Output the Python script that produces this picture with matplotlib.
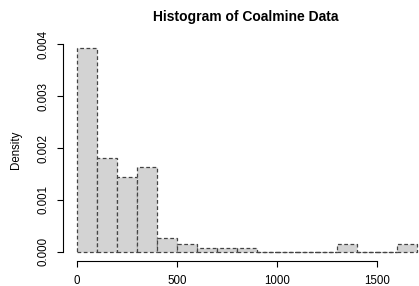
import numpy as np
import matplotlib.pyplot as plt

plt.rcParams['font.family'] = ['Liberation Sans', 'DejaVu Sans']

# histogram of coalmine intervals (days), bin width 100
breaks = np.arange(0, 1800, 100)
density = [0.00392, 0.00181, 0.00145, 0.00164, 0.00026, 0.000155,
           0.00007, 0.00007, 0.00007, 0.0, 0.0, 0.0, 0.0,
           0.000148, 0.0, 0.0, 0.000148]
xticks = [0, 500, 1000, 1500]
yticks = [0.000, 0.001, 0.002, 0.003, 0.004]

fig = plt.figure(figsize=(4.19, 2.86), dpi=100)
ax = fig.add_axes([63.4 / 419, 26 / 286, 367.2 / 419, 220 / 286])

ax.bar(breaks[:-1], density, width=np.diff(breaks), align='edge',
       color='#d3d3d3', edgecolor='#444444', linewidth=0.9,
       linestyle=(0, (3, 2)))

ax.set_xlim(-68, 1768)
ax.set_ylim(-0.000157, 0.00408)

for s in ['top', 'right']:
    ax.spines[s].set_visible(False)
ax.spines['left'].set_bounds(0, 0.004)
ax.spines['bottom'].set_bounds(0, 1500)
ax.spines['bottom'].set_position(('outward', 1))

ax.set_xticks(xticks)
ax.set_yticks(yticks)
ax.set_yticklabels([f"{v:.3f}" for v in yticks], rotation=90, va='center')
ax.tick_params(length=4, width=0.8, labelsize=8.3)
ax.tick_params(axis='x', pad=5.5)
ax.tick_params(axis='y', pad=6)

ax.set_ylabel('Density', fontsize=8.3, labelpad=11)
ax.set_title('Histogram of Coalmine Data', fontsize=10, fontweight='bold',
             pad=14, x=(246 - 63.4) / 367.2)

fig.savefig('out.png', dpi=100)
